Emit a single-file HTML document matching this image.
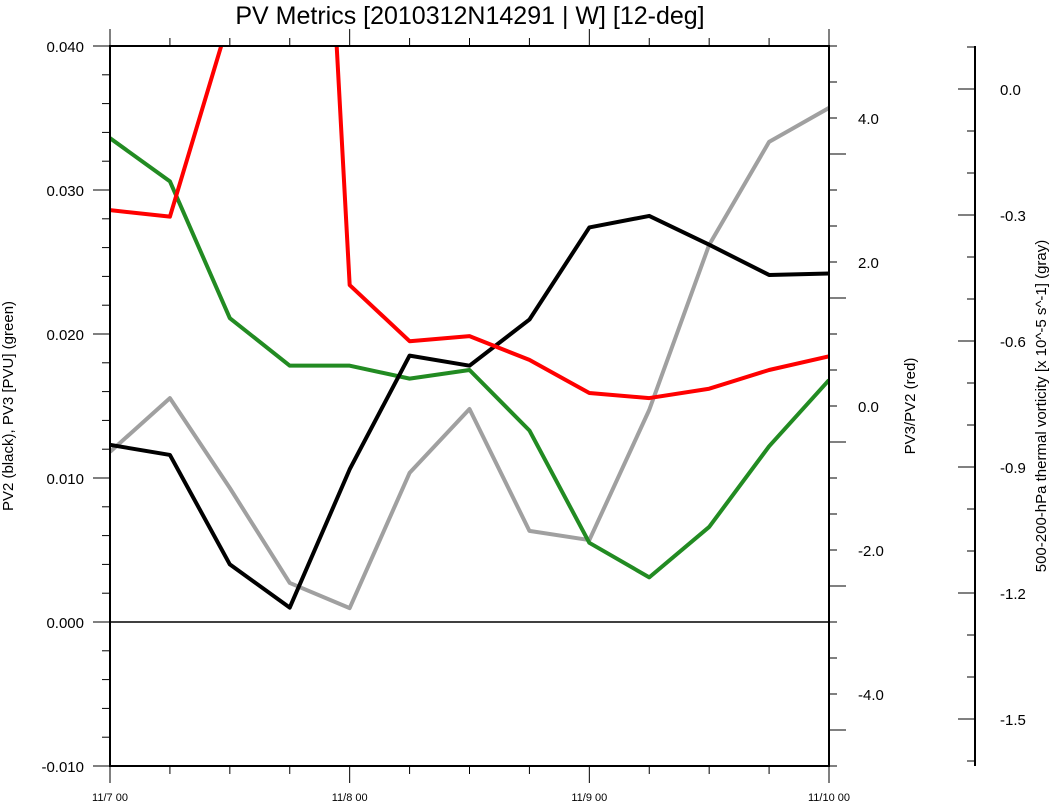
<!DOCTYPE html>
<html><head><meta charset="utf-8"><style>
body{margin:0;background:#fff;}
svg{display:block;font-family:"Liberation Sans",sans-serif;}
</style></head><body>
<svg id="chart" width="1055" height="805" xmlns="http://www.w3.org/2000/svg">
<defs><clipPath id="plotclip"><rect x="110" y="46" width="719" height="720"/></clipPath></defs>
<text x="470" y="24" font-size="25" text-anchor="middle">PV Metrics [2010312N14291 | W] [12-deg]</text>
<g id="axes"></g>
<g id="series" clip-path="url(#plotclip)"></g>
<rect x="110" y="46" width="719" height="720" fill="none" stroke="#000" stroke-width="2"/>
<text transform="translate(13,406) rotate(-90)" font-size="15" text-anchor="middle">PV2 (black), PV3 [PVU] (green)</text>
<text transform="translate(915,406) rotate(-90)" font-size="15" text-anchor="middle">PV3/PV2 (red)</text>
<text transform="translate(1046,406) rotate(-90)" font-size="15" text-anchor="middle">500-200-hPa thermal vorticity [x 10^-5 s^-1] (gray)</text>
</svg>
<script>
const xLabels=["11/7 00","11/8 00","11/9 00","11/10 00"];
const pv2=[0.0123,0.0116,0.0040,0.0010,0.0106,0.0185,0.0178,0.0210,0.0274,0.0282,0.0262,0.0241,0.0242];
const pv3=[0.0336,0.0306,0.0211,0.0178,0.0178,0.0169,0.0175,0.0133,0.0055,0.0031,0.0066,0.0122,0.0168];
const ratio=[2.72,2.63,5.4,17,1.68,0.90,0.97,0.64,0.18,0.11,0.24,0.50,0.69];
const vort=[-0.864,-0.736,-0.95,-1.176,-1.236,-0.914,-0.762,-1.052,-1.074,-0.764,-0.371,-0.126,-0.045];
const leftTicks=["0.040","0.030","0.020","0.010","0.000","-0.010"];
const redTicks=["4.0","2.0","0.0","-2.0","-4.0"];
const grayTicks=["0.0","-0.3","-0.6","-0.9","-1.2","-1.5"];
const NS="http://www.w3.org/2000/svg";
const X0=110,X1=829,Y0=46,Y1=766;
const xs=i=>X0+(X1-X0)*i/12;
const yL=v=>Y0+(0.040-v)/0.050*(Y1-Y0);
const yR=v=>Y0+(5-v)/10*(Y1-Y0);
const yG=v=>89+(0-v)*420;
const ax=document.getElementById('axes'),se=document.getElementById('series');
function el(t,a,p){const e=document.createElementNS(NS,t);for(const k in a)e.setAttribute(k,a[k]);p.appendChild(e);return e;}
function ln(x1,y1,x2,y2,w){return el('line',{x1,y1,x2,y2,stroke:'#000','stroke-width':w||1},ax);}
for(let i=0;i<=12;i++){const x=xs(i);const L=i%4==0?17:8;ln(x,Y0,x,Y0-L);ln(x,Y1,x,Y1+L);}
xLabels.forEach((s,i)=>{const t=el('text',{x:xs(i*4),y:801,'font-size':11,'text-anchor':'middle'},ax);t.textContent=s;

});
for(let k=0;k<=25;k++){const v=0.040-k*0.002;const y=yL(v);ln(X0,y,X0-(k%5==0?17:8),y);}
leftTicks.forEach(s=>{const t=el('text',{x:84,y:yL(parseFloat(s))+6,'font-size':15,'text-anchor':'end'},ax);t.textContent=s;

});
for(let k=0;k<=20;k++){const v=5-k*0.5;const y=yR(v);ln(X1,y,X1+(k%4==3?17:8),y);}
redTicks.forEach(s=>{const t=el('text',{x:858,y:yR(parseFloat(s))+6,'font-size':15},ax);t.textContent=s;

});
ln(975,Y0,975,Y1,2);
for(let k=-1;k<=16;k++){const v=-k*0.1;const y=yG(v);if(y<Y0||y>Y1)continue;ln(975,y,975-(k%3==0?17:8),y);}
grayTicks.forEach(s=>{const t=el('text',{x:1000,y:yG(parseFloat(s))+6,'font-size':15},ax);t.textContent=s;

});
ln(X0,yL(0),X1,yL(0),1.5);
function series(arr,fy,color,name){const p=el('polyline',{points:arr.map((v,i)=>xs(i)+','+fy(v)).join(' '),fill:'none',stroke:color,'stroke-width':4,'stroke-linejoin':'round'},se);

}
series(vort,yG,'#a0a0a0','vorticity-line-gray');
series(pv3,yL,'#228b22','pv3-line-green');
series(pv2,yL,'#000000','pv2-line-black');
series(ratio,yR,'#ff0000','ratio-line-red');
</script>
</body></html>
